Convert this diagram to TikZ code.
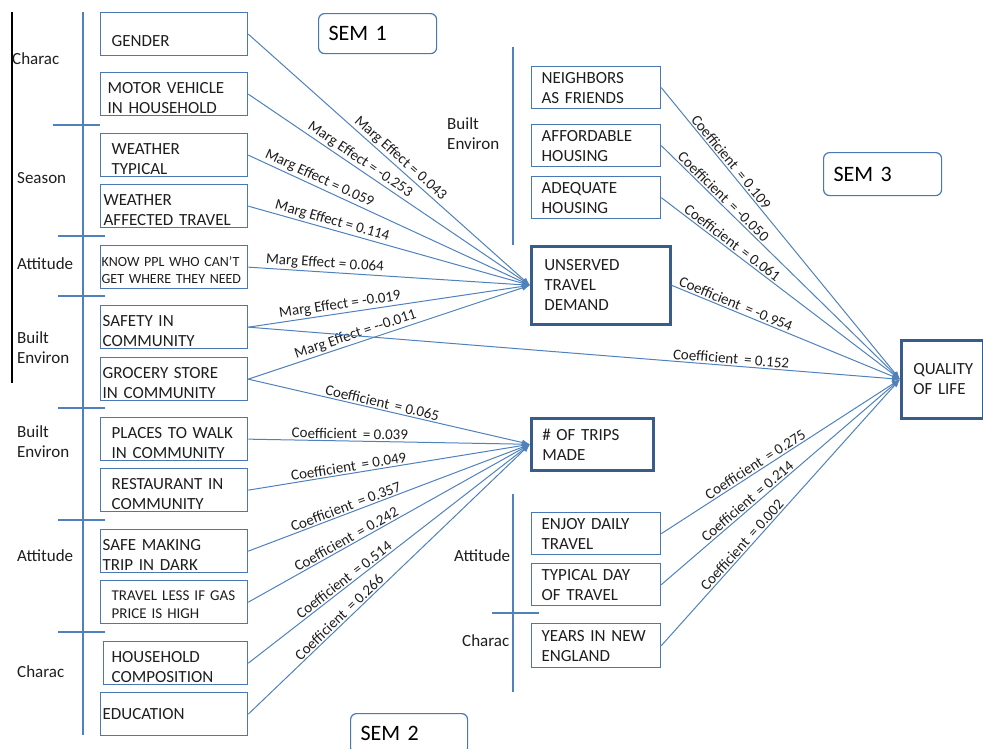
\documentclass[tikz,border=0pt]{standalone}
\usepackage{fontspec}
\setmainfont{Carlito}
\usetikzlibrary{arrows.meta}
\definecolor{lineblue}{RGB}{79,129,189}
\definecolor{boxblue}{RGB}{74,120,180}
\definecolor{darkblue}{RGB}{56,93,138}
\definecolor{txt}{RGB}{30,30,30}
\begin{document}
\begin{tikzpicture}[x=1pt,y=-1pt,
  box/.style={draw=boxblue, line width=1.3pt, inner ysep=0pt, align=left, anchor=north west,
    font=\fontsize{17}{20}\selectfont, text=txt},
  lboxplain/.style={box, inner xsep=7pt, text width=133pt, minimum height=43pt},
  lbox/.style={lboxplain, execute at begin node={\rule{0pt}{19pt}}},
  rbox/.style={box, inner xsep=10pt, text width=109pt, minimum height=42pt},
  tbox/.style={box, draw=darkblue, line width=2.6pt},
  sembox/.style={draw=boxblue, line width=1.2pt, rounded corners=6pt, anchor=north west, align=left,
    inner xsep=10pt, inner ysep=0pt, font=\fontsize{22}{26}\selectfont, text=black},
  grp/.style={anchor=west, align=left, inner sep=0pt, font=\fontsize{17}{20}\selectfont, text=txt},
  rule/.style={draw=lineblue, line width=1.2pt},
  edge/.style={draw=lineblue, line width=1pt, -{Latex[length=8pt,width=6pt]}},
  lbl/.style={font=\fontsize{15}{17}\selectfont, text=txt, sloped, above, inner sep=1.5pt}
]
\useasboundingbox (0,0) rectangle (983,748);
\clip (0,0) rectangle (983,748);

% grouping rules
\draw[black, line width=1.2pt] (12,12) -- (12,383);
\draw[rule] (83,12) -- (83,735);
\draw[rule] (53,125) -- (100,125);
\draw[rule] (58,236) -- (105,236);
\draw[rule] (58,296) -- (105,296);
\draw[rule] (58,408) -- (105,408);
\draw[rule] (58,520) -- (105,520);
\draw[rule] (58,632) -- (105,632);
\draw[rule] (513,47) -- (513,245);
\draw[rule] (513,494) -- (513,692);
\draw[rule] (492,613) -- (539,613);

% group labels
\node[grp] (g1) at (12,59) {Charac};
\node[grp] (g2) at (17,178) {Season};
\node[grp] (g3) at (17,264) {Attitude};
\node[grp] (g4) at (17,348) {Built\\Environ};
\node[grp] (g5) at (17,442) {Built\\Environ};
\node[grp] (g6) at (17,556) {Attitude};
\node[grp] (g7) at (17,672) {Charac};
\node[grp] (g8) at (447,134) {Built\\Environ};
\node[grp] (g9) at (454,556) {Attitude};
\node[grp] (g10) at (462,641) {Charac};

% SEM labels
\node[sembox, minimum width=118pt, minimum height=40pt, text width=98pt] (sem1) at (318,13) {SEM 1};
\node[sembox, minimum width=117pt, minimum height=40pt, text width=97pt] (sem2) at (350,713) {SEM 2};
\node[sembox, minimum width=118pt, minimum height=43pt, text width=98pt] (sem3) at (823,152) {SEM 3};

% left boxes
\node[lbox] (gender) at (100,12) {\rule{0pt}{24pt}\hspace*{4pt}GENDER};
\node[lbox] (motor) at (100,72) {MOTOR VEHICLE\\IN HOUSEHOLD};
\node[lbox] (wtyp) at (100,133) {\hspace*{4pt}WEATHER\\\hspace*{4pt}TYPICAL};
\node[lbox, inner xsep=3pt, text width=141pt] (waff) at (100,184) {WEATHER\\AFFECTED TRAVEL};
\node[lboxplain, inner xsep=1pt, text width=145pt, font=\fontsize{14}{17}\selectfont,
  execute at begin node={\rule{0pt}{16pt}}] (know) at (100,245) {KNOW PPL WHO CAN’T\\GET WHERE THEY NEED};
\node[lbox, inner xsep=2pt, text width=143pt] (safety) at (100,305) {SAFETY IN\\COMMUNITY};
\node[lbox, inner xsep=2pt, text width=143pt] (grocery) at (100,357) {GROCERY STORE\\IN COMMUNITY};
\node[lbox, inner xsep=11pt, text width=125pt] (walk) at (100,417) {PLACES TO WALK\\IN COMMUNITY};
\node[lbox, inner xsep=11pt, text width=125pt] (rest) at (100,468) {RESTAURANT IN\\COMMUNITY};
\node[lbox, inner xsep=2pt, text width=143pt] (dark) at (100,529) {SAFE MAKING\\TRIP IN DARK};
\node[lboxplain, inner xsep=3pt, text width=141pt, font=\fontsize{15}{18}\selectfont,
  execute at begin node={\rule{0pt}{14pt}}] (gas) at (100,580) {\hspace*{8pt}TRAVEL LESS IF GAS\\\hspace*{8pt}PRICE IS HIGH};
\node[lbox, inner xsep=8pt, text width=128pt] (house) at (103,641) {HOUSEHOLD\\COMPOSITION};
\node[lboxplain, inner xsep=2pt, text width=143pt] (edu) at (100,692) {EDUCATION};

% right boxes
\node[rbox] (neigh) at (531,66) {NEIGHBORS\\AS FRIENDS};
\node[rbox] (afford) at (531,124) {AFFORDABLE\\HOUSING};
\node[rbox] (adequate) at (531,176) {ADEQUATE\\HOUSING};
\node[rbox] (enjoy) at (531,512) {ENJOY DAILY\\TRAVEL};
\node[rbox] (typday) at (531,563) {TYPICAL DAY\\OF TRAVEL};
\node[rbox, minimum height=44pt] (years) at (531,623) {YEARS IN NEW\\ENGLAND};

% outcome boxes
\node[tbox, inner xsep=13pt, text width=113pt, minimum height=78pt] (unserved) at (530,245) {UNSERVED\\TRAVEL\\DEMAND};
\node[tbox, inner xsep=11pt, text width=100pt, minimum height=52pt] (trips) at (530,417) {\# OF TRIPS\\MADE};
\node[tbox, inner xsep=9pt, text width=64pt, minimum height=78pt] (quality) at (900,339) {\hspace*{3pt}QUALITY\\\hspace*{3pt}OF LIFE};

% SEM 1 edges
\draw[edge] (gender.east) -- node[lbl, pos=.52] {Marg Effect = 0.043} (unserved.west);
\draw[edge] (motor.east) -- node[lbl, pos=.38] {Marg Effect = -0.253} (unserved.west);
\draw[edge] (wtyp.east) -- node[lbl, pos=.24] {Marg Effect = 0.059} (unserved.west);
\draw[edge] (waff.east) -- node[lbl, pos=.29] {Marg Effect = 0.114} (unserved.west);
\draw[edge] (know.east) -- node[lbl, pos=.27] {Marg Effect = 0.064} (unserved.west);
\draw[edge] (safety.east) -- node[lbl, pos=.33] {Marg Effect = -0.019} (unserved.west);
\draw[edge] (grocery.east) -- node[lbl, pos=.39] {Marg Effect = {-}{-}0.011} (unserved.west);

% SEM 2 edges
\draw[edge] (grocery.east) -- node[lbl, pos=.47] {Coefficient \,= 0.065} (trips.west);
\draw[edge] (walk.east) -- node[lbl, pos=.36] {Coefficient \,= 0.039} (trips.west);
\draw[edge] (rest.east) -- node[lbl, pos=.36] {Coefficient \,= 0.049} (trips.west);
\draw[edge] (dark.east) -- node[lbl, pos=.355] {Coefficient \,= 0.357} (trips.west);
\draw[edge] (gas.east) -- node[lbl, pos=.36] {Coefficient \,= 0.242} (trips.west);
\draw[edge] (house.east) -- node[lbl, pos=.355] {Coefficient \,= 0.514} (trips.west);
\draw[edge] (edu.east) -- node[lbl, pos=.34] {Coefficient \,= 0.266} (trips.west);

% SEM 3 edges
\draw[edge] (neigh.east) -- node[lbl, pos=.27] {Coefficient \,= 0.109} (quality.west);
\draw[edge] (afford.east) -- node[lbl, pos=.24] {Coefficient \,= -0.050} (quality.west);
\draw[edge] (adequate.east) -- node[lbl, pos=.28] {Coefficient \,= 0.061} (quality.west);
\draw[edge] (unserved.east) -- node[lbl, pos=.27] {Coefficient \,= -0.954} (quality.west);
\draw[edge] (safety.east) -- node[lbl, pos=.74] {Coefficient \,= 0.152} (quality.west);
\draw[edge] (enjoy.east) -- node[lbl, pos=.41] {Coefficient \,= 0.275} (quality.west);
\draw[edge] (typday.east) -- node[lbl, pos=.38] {Coefficient \,= 0.214} (quality.west);
\draw[edge] (years.east) -- node[lbl, pos=.36] {Coefficient \,= 0.002} (quality.west);
\end{tikzpicture}
\end{document}
